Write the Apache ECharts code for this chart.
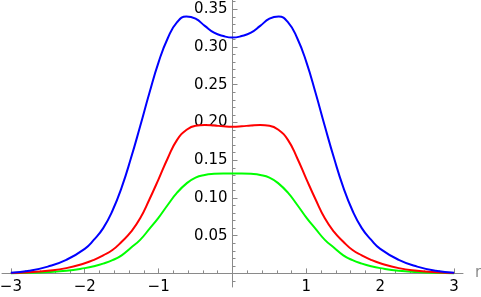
<!DOCTYPE html>
<html>
<head>
<meta charset="utf-8">
<script src="https://cdn.jsdelivr.net/npm/echarts@6/dist/echarts.min.js"></script>
<style>
html,body{margin:0;padding:0;background:#fff;}
#chart{width:481px;height:297px;}
</style>
</head>
<body>
<div id="chart"></div>
<script>
const rValues = [-3,-2.75,-2.5,-2.25,-2,-1.875,-1.75,-1.625,-1.5,-1.375,-1.25,-1.125,-1,-0.875,-0.75,-0.625,-0.5,-0.375,-0.25,-0.125,0,
  0.125,0.25,0.375,0.5,0.625,0.75,0.875,1,1.125,1.25,1.375,1.5,1.625,1.75,1.875,2,2.25,2.5,2.75,3];
const blueValues = [0.001,0.0035,0.009,0.018,0.0325,0.0447,0.060,0.083,0.114,0.1525,0.195,0.239,0.280,0.312,0.333,0.3405,0.3375,0.328,0.319,0.3145,0.3125,
  0.3145,0.319,0.328,0.3375,0.3405,0.333,0.312,0.280,0.239,0.195,0.1525,0.114,0.083,0.060,0.0447,0.0325,0.018,0.009,0.0035,0.001];
const redValues = [0.0006,0.0015,0.0035,0.007,0.0135,0.018,0.024,0.031,0.042,0.055,0.073,0.098,0.125,0.153,0.177,0.190,0.1957,0.1966,0.196,0.195,0.1945,
  0.195,0.196,0.1966,0.1957,0.190,0.177,0.153,0.125,0.098,0.073,0.055,0.042,0.031,0.024,0.018,0.0135,0.007,0.0035,0.0015,0.0006];
const greenValues = [0.0003,0.0008,0.0018,0.0035,0.007,0.0095,0.013,0.0175,0.024,0.034,0.0445,0.059,0.074,0.091,0.107,0.119,0.127,0.1305,0.132,0.1325,0.1325,
  0.1325,0.132,0.1305,0.127,0.119,0.107,0.091,0.074,0.059,0.0445,0.034,0.024,0.0175,0.013,0.0095,0.007,0.0035,0.0018,0.0008,0.0003];
const xTickLabels = [-3,-2,-1,1,2,3];
const xMajorTicks = [-3,-2,-1,0,1,2,3];
const xMinorTicks = [-2.8,-2.6,-2.4,-2.2,-1.8,-1.6,-1.4,-1.2,-0.8,-0.6,-0.4,-0.2,0.2,0.4,0.6,0.8,1.2,1.4,1.6,1.8,2.2,2.4,2.6,2.8];
const yTickLabels = [0.05,0.10,0.15,0.20,0.25,0.30,0.35];
const yMinorTicks = [-0.01,0.01,0.02,0.03,0.04,0.06,0.07,0.08,0.09,0.11,0.12,0.13,0.14,0.16,0.17,0.18,0.19,0.21,0.22,0.23,0.24,0.26,0.27,0.28,0.29,0.31,0.32,0.33,0.34,0.36];

const X_MIN = -3.12, X_MAX = 3.12, Y_MIN = -0.018, Y_MAX = 0.3623;
const GRID = {left:2, right:18, top:0, bottom:10};
const W = 481, H = 297;
const gridW = W - GRID.left - GRID.right, gridH = H - GRID.top - GRID.bottom;
// place axes at the zero of the other axis through an offset (labels follow the line)
const yAxisOffset = -((0 - X_MIN) / (X_MAX - X_MIN)) * gridW;
const xAxisOffset = -((0 - Y_MIN) / (Y_MAX - Y_MIN)) * gridH;
const axisGray = '#8a8a8a';
function pairs(ys){ return rValues.map((x,i)=>[x, ys[i]]); }
function fmtX(v){ return v < 0 ? '\u2212' + Math.abs(v) : String(v); }

const chart = echarts.init(document.getElementById('chart'), null, {renderer:'canvas'});
chart.setOption({
  animation:false,
  grid:Object.assign({containLabel:false, outerBoundsMode:'none'}, GRID),
  xAxis:[
    {type:'value', min:X_MIN, max:X_MAX, position:'bottom', offset:xAxisOffset,
     axisLine:{show:true, onZero:false, lineStyle:{color:axisGray, width:1}},
     axisTick:{show:true, inside:true, length:5, customValues:xMajorTicks, lineStyle:{color:axisGray}},
     axisLabel:{show:true, customValues:xTickLabels, formatter:fmtX, color:'#000', fontSize:15, fontFamily:'DejaVu Sans', margin:6},
     splitLine:{show:false},
     name:'r', nameLocation:'end', nameGap:12,
     nameTextStyle:{color:'#8a8a8a', fontSize:15, fontFamily:'DejaVu Sans', verticalAlign:'middle'}},
    {type:'value', min:X_MIN, max:X_MAX, position:'bottom', offset:xAxisOffset,
     axisLine:{show:false, onZero:false},
     axisTick:{show:true, inside:true, length:3, customValues:xMinorTicks, lineStyle:{color:axisGray}},
     axisLabel:{show:false}, splitLine:{show:false}}
  ],
  yAxis:[
    {type:'value', min:Y_MIN, max:Y_MAX, position:'left', offset:yAxisOffset,
     axisLine:{show:true, onZero:false, lineStyle:{color:axisGray, width:1}},
     axisTick:{show:true, inside:true, length:5, customValues:yTickLabels, lineStyle:{color:axisGray}},
     axisLabel:{show:true, customValues:yTickLabels, formatter:v=>v.toFixed(2), color:'#000', fontSize:15, fontFamily:'DejaVu Sans', margin:5},
     splitLine:{show:false}},
    {type:'value', min:Y_MIN, max:Y_MAX, position:'left', offset:yAxisOffset,
     axisLine:{show:false, onZero:false},
     axisTick:{show:true, inside:true, length:3, customValues:yMinorTicks, lineStyle:{color:axisGray}},
     axisLabel:{show:false}, splitLine:{show:false}}
  ],
  series:[
    {type:'line', xAxisIndex:0, yAxisIndex:0, data:pairs(greenValues), showSymbol:false, smooth:0.5, lineStyle:{color:'#00ff00', width:2}, z:3},
    {type:'line', xAxisIndex:0, yAxisIndex:0, data:pairs(redValues), showSymbol:false, smooth:0.5, lineStyle:{color:'#ff0000', width:2}, z:4},
    {type:'line', xAxisIndex:0, yAxisIndex:0, data:pairs(blueValues), showSymbol:false, smooth:0.5, lineStyle:{color:'#0000ff', width:2}, z:5}
  ]
});
</script>
</body>
</html>
